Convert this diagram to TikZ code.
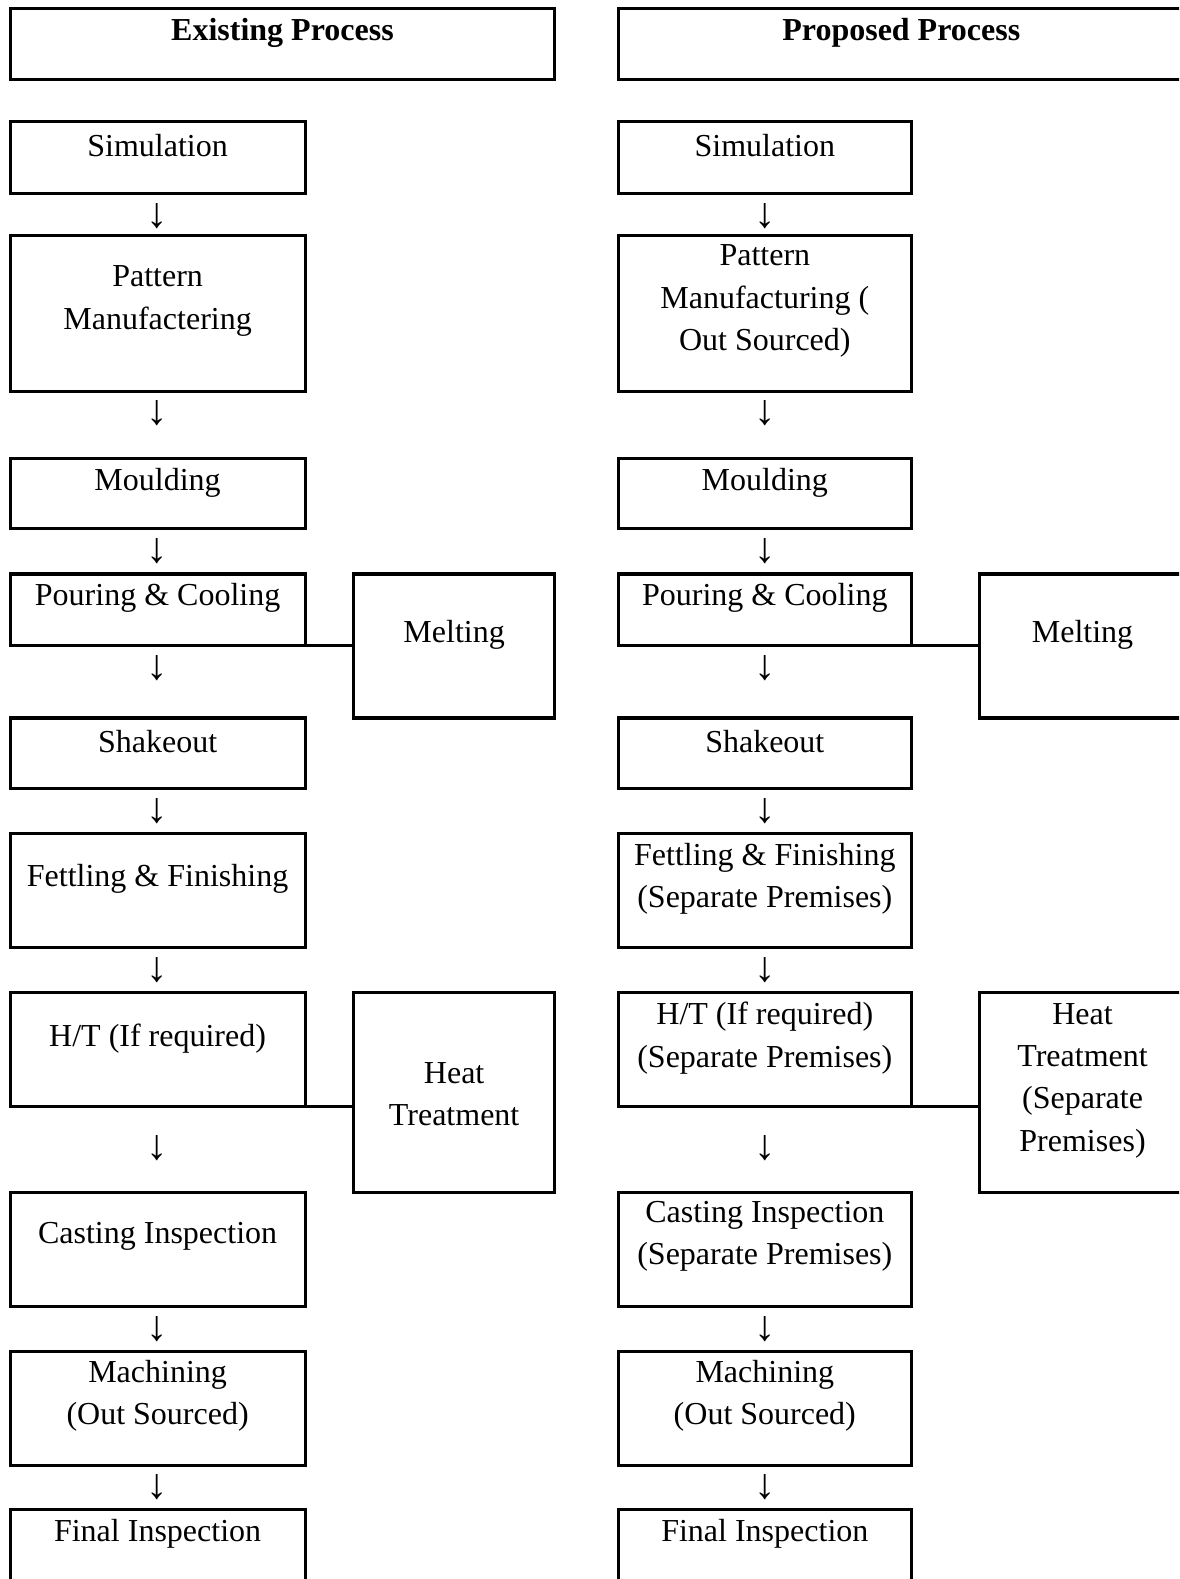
\documentclass[tikz,border=0pt]{standalone}
\usepackage{fontspec}
\setmainfont{Liberation Serif}
\def\pxu{0.3776pt}
\tikzset{
  box/.style={draw, line width=1.15pt, inner sep=0pt, outer sep=0pt, anchor=north west},
  txt/.style={align=center, inner sep=0pt, yshift=-3*\pxu, font=\fontsize{12pt}{15.86pt}\selectfont},
  hd/.style={txt, font=\fontsize{12pt}{15.86pt}\selectfont\bfseries},
  arr/.style={inner sep=0pt, font=\fontsize{16pt}{18pt}\selectfont},
  conn/.style={line width=1pt}
}
\newcommand{\bx}[5]{\node[box, minimum width={(#4-#2)*\pxu}, minimum height={(#5-#3)*\pxu}] (#1) at (#2,#3) {};}
\begin{document}
\begin{tikzpicture}[x=\pxu, y=-\pxu]
\useasboundingbox (0,0) rectangle (1171,1568);
\clip (0,0) rectangle (1171,1568);
% ---------------- Existing process ----------------
\bx{hdL}{10}{8}{551}{79}
\node[hd] (hdLt) at (280.5,30) {Existing Process};
\bx{simL}{10}{121}{303}{192}
\bx{patL}{10}{234}{303}{389}
\bx{mouL}{10}{455}{303}{525}
\bx{pourL}{10}{570}{303}{641}
\bx{meltL}{351}{570}{551}{713}
\bx{shakeL}{10}{713}{303}{783}
\bx{fettL}{10}{828}{303}{941}
\bx{htL}{10}{986}{303}{1099}
\bx{heatL}{351}{986}{551}{1184}
\bx{castL}{10}{1184}{303}{1297}
\bx{machL}{10}{1342}{303}{1455}
\bx{finL}{10}{1499}{303}{1640}
\node[txt] (simLt) at (156.5,142) {Simulation};
\node[txt] (patLt) at (156.5,296) {Pattern\\Manufactering};
\node[txt] (mouLt) at (156.5,476) {Moulding};
\node[txt] (pourLt) at (156.5,591) {Pouring \& Cooling};
\node[txt] (meltLt) at (451,627) {Melting};
\node[txt] (shakeLt) at (156.5,733) {Shakeout};
\node[txt] (fettLt) at (156.5,870) {Fettling \& Finishing};
\node[txt] (htLt) at (156.5,1028) {H/T (If required)};
\node[txt] (heatLt) at (451,1083.5) {Heat\\Treatment};
\node[txt] (castLt) at (156.5,1225) {Casting Inspection};
\node[txt] (machLt) at (156.5,1383) {Machining\\(Out Sourced)};
\node[txt] (finLt) at (156.5,1520) {Final Inspection};
\foreach \i/\yy in {1/215,2/410,3/547,4/663,5/805,6/963,7/1140,8/1320,9/1477}
  \node[arr] (aL\i) at (156.5,\yy) {↓};
\draw[conn] (pourL.south east) -- (pourL.south east -| meltL.west);
\draw[conn] (htL.south east) -- (htL.south east -| heatL.west);
% ---------------- Proposed process ----------------
\bx{hdR}{614}{8}{1180}{79}
\node[hd] (hdRt) at (895,30) {Proposed Process};
\bx{simR}{614}{121}{905}{192}
\bx{patR}{614}{234}{905}{389}
\bx{mouR}{614}{455}{905}{525}
\bx{pourR}{614}{570}{905}{641}
\bx{meltR}{973}{570}{1180}{713}
\bx{shakeR}{614}{713}{905}{783}
\bx{fettR}{614}{828}{905}{941}
\bx{htR}{614}{986}{905}{1099}
\bx{heatR}{973}{986}{1180}{1184}
\bx{castR}{614}{1184}{905}{1297}
\bx{machR}{614}{1342}{905}{1455}
\bx{finR}{614}{1499}{905}{1640}
\node[txt] (simRt) at (759.5,142) {Simulation};
\node[txt] (patRt) at (759.5,296) {Pattern\\Manufacturing (\\Out Sourced)};
\node[txt] (mouRt) at (759.5,476) {Moulding};
\node[txt] (pourRt) at (759.5,591) {Pouring \& Cooling};
\node[txt] (meltRt) at (1075,627) {Melting};
\node[txt] (shakeRt) at (759.5,733) {Shakeout};
\node[txt] (fettRt) at (759.5,870) {Fettling \& Finishing\\(Separate Premises)};
\node[txt] (htRt) at (759.5,1028) {H/T (If required)\\(Separate Premises)};
\node[txt] (heatRt) at (1075,1070) {Heat\\Treatment\\(Separate\\Premises)};
\node[txt] (castRt) at (759.5,1225) {Casting Inspection\\(Separate Premises)};
\node[txt] (machRt) at (759.5,1383) {Machining\\(Out Sourced)};
\node[txt] (finRt) at (759.5,1520) {Final Inspection};
\foreach \i/\yy in {1/215,2/410,3/547,4/663,5/805,6/963,7/1140,8/1320,9/1477}
  \node[arr] (aR\i) at (759.5,\yy) {↓};
\draw[conn] (pourR.south east) -- (pourR.south east -| meltR.west);
\draw[conn] (htR.south east) -- (htR.south east -| heatR.west);
\end{tikzpicture}
\end{document}
